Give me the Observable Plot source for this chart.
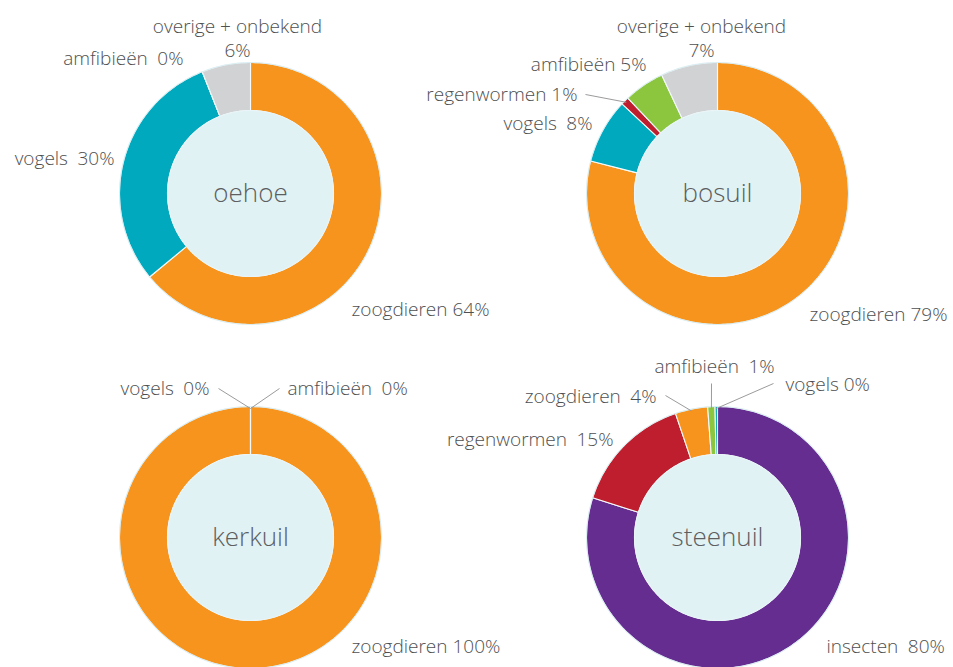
<!DOCTYPE html>
<html>
<head>
<meta charset="utf-8">
<script src="https://cdn.jsdelivr.net/npm/d3@7"></script>
<script src="https://cdn.jsdelivr.net/npm/@observablehq/plot@0.6"></script>
<style>
  html, body { margin: 0; padding: 0; background: #fff; }
  #wrap { position: relative; width: 953px; height: 667px; overflow: hidden; }
  #wrap > div { position: absolute; left: 0; top: 0; }
  #wrap svg { overflow: visible !important; background: transparent !important; max-width: none !important; }
</style>
</head>
<body>
<div id="wrap"></div>
<script>
// ---------- data ----------
const oehoeCats = ["zoogdieren", "vogels", "amfibieën", "overige + onbekend"];
const oehoeVals = [64, 30, 0, 6];

const bosuilCats = ["zoogdieren", "vogels", "regenwormen", "amfibieën", "overige + onbekend"];
const bosuilVals = [79, 8, 1, 5, 7];

const kerkuilCats = ["zoogdieren", "vogels", "amfibieën"];
const kerkuilVals = [100, 0, 0];

const steenuilCats = ["insecten", "regenwormen", "zoogdieren", "amfibieën", "vogels"];
const steenuilVals = [79.9, 14.9, 4.0, 0.9, 0.3];

const owlNames = ["oehoe", "bosuil", "kerkuil", "steenuil"];

// ---------- styling ----------
const colorDomain = ["zoogdieren", "vogels", "amfibieën", "overige + onbekend", "regenwormen", "insecten"];
const colorRange  = ["#f7941e", "#00a9bd", "#8cc63f", "#d1d2d4", "#be1e2d", "#662d91"];
const W = 953, H = 667;
const R_OUT = 131, R_IN = 83, R_LEAD = 129;
const FONT = "'Open Sans', 'Noto Sans', sans-serif";
const TEXT = "#4e4f51";

// label layout per chart: category -> [dx, dy, anchor, wideGap, leaderStart?]
const layouts = [
  {cx: 250, cy: 193, labels: {
    "zoogdieren": [101, 115, "start", false],
    "vogels": [-136, -36, "end", true],
    "amfibieën": [-67, -136, "end", true],
    "overige + onbekend": [-13, -156, "middle", false]
  }},
  {cx: 717, cy: 193, labels: {
    "zoogdieren": [92, 120, "start", false],
    "vogels": [-125, -71, "end", true],
    "regenwormen": [-140, -100, "end", false, [-132, -99]],
    "amfibieën": [-71, -130, "end", false],
    "overige + onbekend": [-16, -156, "middle", false]
  }},
  {cx: 250, cy: 537, labels: {
    "zoogdieren": [101, 108, "start", false],
    "vogels": [-41, -150, "end", true, [-32, -149]],
    "amfibieën": [37, -150, "start", true, [29, -149]]
  }},
  {cx: 717, cy: 537, labels: {
    "insecten": [109, 108, "start", true],
    "regenwormen": [-104, -99, "end", true],
    "zoogdieren": [-61, -142, "end", true, [-52, -142]],
    "amfibieën": [-3, -172, "middle", true, [-6, -154]],
    "vogels": [68, -154, "start", false, [56, -154]]
  }}
];

const charts = [
  [oehoeCats, oehoeVals],
  [bosuilCats, bosuilVals],
  [kerkuilCats, kerkuilVals],
  [steenuilCats, steenuilVals]
];

function slices(cats, vals) {
  const total = d3.sum(vals);
  const pts = [], mids = [];
  let acc = 0;
  cats.forEach((c, i) => {
    const a0 = acc / total * 2 * Math.PI;
    acc += vals[i];
    const a1 = acc / total * 2 * Math.PI;
    mids.push((a0 + a1) / 2);
    const n = Math.max(1, Math.ceil((a1 - a0) / (Math.PI / 180)));
    for (let k = 0; k <= n; k++) {
      const a = a0 + (a1 - a0) * k / n;
      pts.push({key: i, cat: c, x: R_OUT * Math.sin(a), y: -R_OUT * Math.cos(a)});
    }
    for (let k = n; k >= 0; k--) {
      const a = a0 + (a1 - a0) * k / n;
      pts.push({key: i, cat: c, x: R_IN * Math.sin(a), y: -R_IN * Math.cos(a)});
    }
  });
  return {pts, mids};
}

const wrap = document.getElementById("wrap");

charts.forEach(([cats, vals], ci) => {
  const L = layouts[ci];
  const {pts, mids} = slices(cats, vals);
  const labels = cats.map((c, i) => {
    const [dx, dy, anchor, wide, lead] = L.labels[c];
    const pct = Math.round(vals[i]) + "%";
    const gap = wide ? "\u2002" : " ";
    const text = c === "overige + onbekend" ? c + "\n" + pct : c + gap + pct;
    return {text, x: dx, y: dy, anchor, lead,
            ax: R_LEAD * Math.sin(mids[i]), ay: -R_LEAD * Math.cos(mids[i])};
  });
  const leaders = labels.filter(d => d.lead).map(d => ({x1: d.lead[0], y1: d.lead[1], x2: d.ax, y2: d.ay}));
  const textMark = anchor => Plot.text(labels.filter(d => d.anchor === anchor), {
    x: "x", y: "y", text: "text", textAnchor: anchor, lineAnchor: "middle",
    lineHeight: 1.27, fontSize: 19, fontWeight: 300, fill: TEXT, fontFamily: FONT
  });

  const plot = Plot.plot({
    width: W, height: H,
    marginTop: 0, marginRight: 0, marginBottom: 0, marginLeft: 0,
    style: {background: "transparent", overflow: "visible", fontFamily: FONT},
    x: {domain: [-L.cx, W - L.cx], range: [0, W], axis: null},
    y: {domain: [-L.cy, H - L.cy], range: [0, H], axis: null},
    color: {domain: colorDomain, range: colorRange},
    marks: [
      Plot.line(pts, {x: "x", y: "y", z: "key", fill: "cat", stroke: "#f4fafb", strokeWidth: 1.1, curve: "linear-closed"}),
      Plot.dot([{x: 0, y: 0}], {x: "x", y: "y", r: R_OUT, fill: "none", stroke: "#d2eaef", strokeWidth: 0.8}),
      Plot.dot([{x: 0, y: 0}], {x: "x", y: "y", r: R_IN, fill: "#e1f2f5", stroke: "#e8f5f8", strokeWidth: 1}),
      Plot.link(leaders, {x1: "x1", y1: "y1", x2: "x2", y2: "y2", stroke: "#9b9b9b", strokeWidth: 1}),
      textMark("start"), textMark("end"), textMark("middle"),
      Plot.text([{name: owlNames[ci], x: 0, y: 0}], {x: "x", y: "y", text: "name", fontSize: 26, fontWeight: 300, fill: "#5d5e60", fontFamily: FONT})
    ]
  });
  const div = document.createElement("div");
  div.appendChild(plot);
  wrap.appendChild(div);
});
</script>
</body>
</html>
